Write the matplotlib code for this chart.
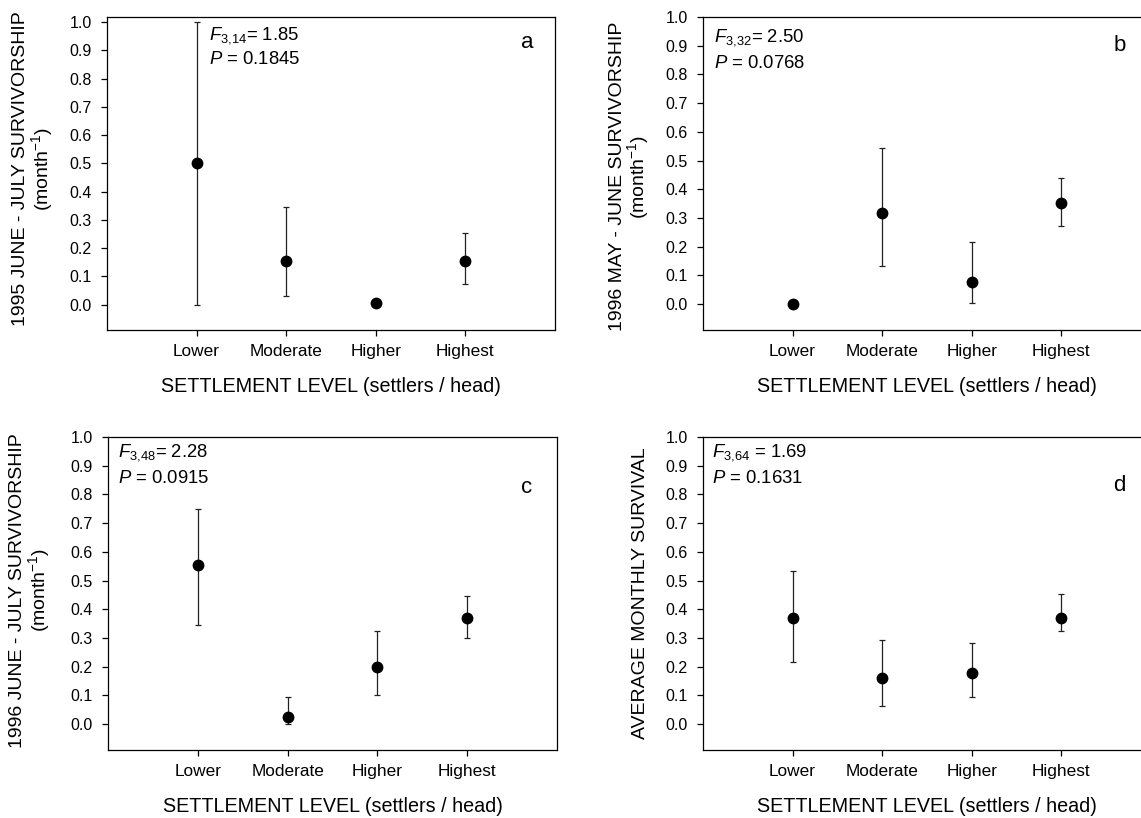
import matplotlib
matplotlib.use("Agg")
import matplotlib.pyplot as plt
import numpy as np

plt.rcParams['font.family'] = ['Liberation Sans', 'DejaVu Sans']
plt.rcParams['mathtext.fontset'] = 'custom'
plt.rcParams['mathtext.rm'] = 'Liberation Sans'
plt.rcParams['mathtext.it'] = 'Liberation Sans:italic'

categories = ["Lower", "Moderate", "Higher", "Highest"]
yticks = [0.0, 0.1, 0.2, 0.3, 0.4, 0.5, 0.6, 0.7, 0.8, 0.9, 1.0]

# panel a: 1995 June - July
a_mean = [0.50, 0.153, 0.004, 0.153]
a_low = [0.0, 0.032, 0.004, 0.073]
a_high = [1.0, 0.345, 0.004, 0.254]

# panel b: 1996 May - June
b_mean = [0.0, 0.319, 0.077, 0.354]
b_low = [0.0, 0.133, 0.005, 0.271]
b_high = [0.0, 0.545, 0.215, 0.440]

# panel c: 1996 June - July
c_mean = [0.553, 0.026, 0.200, 0.371]
c_low = [0.347, 0.0, 0.100, 0.299]
c_high = [0.749, 0.095, 0.324, 0.445]

# panel d: average monthly survival
d_mean = [0.371, 0.161, 0.177, 0.368]
d_low = [0.217, 0.063, 0.093, 0.325]
d_high = [0.535, 0.294, 0.284, 0.452]

W, H = 1141, 818
fig = plt.figure(figsize=(W / 100, H / 100), dpi=100)


def make_axes(left, top, right, bottom):
    return fig.add_axes([left / W, 1 - bottom / H, (right - left) / W, (bottom - top) / H])


panels = [
    dict(box=(107, 17, 555, 330), ylim=(-0.09, 1.018), mean=a_mean, low=a_low, high=a_high,
         ylabel="1995 JUNE - JULY SURVIVORSHIP\n(month$^{-1}$)", ylab_x=-0.165, ylab_y=0.515,
         stat1=r"$\mathit{F}_{3{,}14}$= 1.85", stat2=r"$\mathit{P}$ = 0.1845", sx=0.228, sy1=0.942, sy2=0.863,
         letter="a", lx=0.9375, ly=0.92),
    dict(box=(703, 17, 1151, 330), ylim=(-0.09, 1.0), mean=b_mean, low=b_low, high=b_high,
         ylabel="1996 MAY - JUNE SURVIVORSHIP\n(month$^{-1}$)", ylab_x=-0.163, ylab_y=0.49,
         stat1=r"$\mathit{F}_{3{,}32}$= 2.50", stat2=r"$\mathit{P}$ = 0.0768", sx=0.025, sy1=0.933, sy2=0.853,
         letter="b", lx=0.93, ly=0.91),
    dict(box=(108, 437, 557, 750), ylim=(-0.09, 1.0), mean=c_mean, low=c_low, high=c_high,
         ylabel="1996 JUNE - JULY SURVIVORSHIP\n(month$^{-1}$)", ylab_x=-0.172, ylab_y=0.51,
         stat1=r"$\mathit{F}_{3{,}48}$= 2.28", stat2=r"$\mathit{P}$ = 0.0915", sx=0.022, sy1=0.949, sy2=0.869,
         letter="c", lx=0.933, ly=0.84),
    dict(box=(703, 437, 1151, 750), ylim=(-0.09, 1.0), mean=d_mean, low=d_low, high=d_high,
         ylabel="AVERAGE MONTHLY SURVIVAL", ylab_x=-0.14, ylab_y=0.50,
         stat1=r"$\mathit{F}_{3{,}64}$ = 1.69", stat2=r"$\mathit{P}$ = 0.1631", sx=0.02, sy1=0.949, sy2=0.869,
         letter="d", lx=0.93, ly=0.846),
]

x = np.arange(1, len(categories) + 1)

for p in panels:
    ax = make_axes(*p["box"])
    mean = np.array(p["mean"])
    low = np.array(p["low"])
    high = np.array(p["high"])
    yerr = np.vstack([mean - low, high - mean])
    ax.errorbar(x, mean, yerr=yerr, fmt='o', color='black', ecolor='#222222',
                elinewidth=0.9, capsize=2.5, capthick=0.9, markersize=7.5, zorder=3)
    ax.set_xlim(0, 5)
    ax.set_ylim(*p["ylim"])
    ax.set_xticks(x)
    ax.set_xticklabels(categories, fontsize=12.4)
    ax.set_yticks(yticks)
    ax.set_yticklabels([f"{v:.1f}" for v in yticks], fontsize=11.5)
    ax.tick_params(direction='out', length=4, width=0.9, colors='black', pad=6)
    ax.tick_params(axis='y', pad=7)
    for s in ax.spines.values():
        s.set_linewidth(0.9)
        s.set_color('black')
    ax.text(p["ylab_x"], p["ylab_y"], p["ylabel"], rotation=90, ha='center', va='center',
            multialignment='center', fontsize=14, transform=ax.transAxes, linespacing=1.0)
    ax.text(0.5, -0.182, "SETTLEMENT LEVEL (settlers / head)", ha='center', va='center',
            fontsize=14.2, transform=ax.transAxes)
    ax.text(p["sx"], p["sy1"], p["stat1"], ha='left', va='center', fontsize=13.3, transform=ax.transAxes)
    ax.text(p["sx"], p["sy2"], p["stat2"], ha='left', va='center', fontsize=13.3, transform=ax.transAxes)
    ax.text(p["lx"], p["ly"], p["letter"], ha='center', va='center', fontsize=16, transform=ax.transAxes)

fig.savefig("out.png", dpi=100)
